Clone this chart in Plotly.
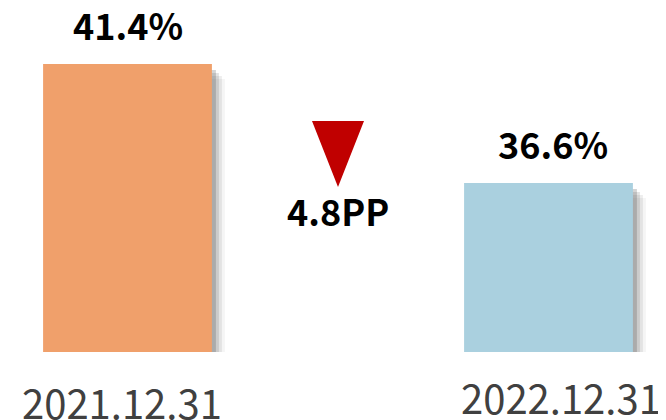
import plotly.graph_objects as go

categories = ["2021.12.31", "2022.12.31"]
values = [41.4, 36.6]
bar_colors = ["#F0A06B", "#AAD0DF"]
change_label = f"{values[0] - values[1]:.1f}PP"

# The page body adds an 8px margin, so the figure is 8px smaller and
# everything is laid out in (reference px - 8).
W, H = 658, 412
PLOT_H = 344            # plot area height (reference y 8..352)
K = 24.79               # px per unit on the y axis
Y0 = 29.78              # axis baseline value
Y1 = Y0 + PLOT_H / K
PXU = 421               # px per category step
CX0 = 119.5             # pixel of first category centre in figure coords


def py(ref_y):
    return (352 - ref_y) / PLOT_H


fig = go.Figure()

# soft shadow layers to the right of each bar
for d, op in [(13, 0.05), (10, 0.09), (7, 0.14), (4, 0.22)]:
    fig.add_trace(go.Bar(
        x=[0, 1], y=[v - (d + 2) / K for v in values],
        width=0.401, offset=-0.2005 + d / PXU,
        marker=dict(color="rgba(60,60,60,%s)" % op, line=dict(width=0)),
        hoverinfo="skip", showlegend=False))

fig.add_trace(go.Bar(
    x=[0, 1], y=values, width=0.401, offset=-0.2005,
    marker=dict(color=bar_colors, line=dict(width=0)),
    showlegend=False))

for i, v in enumerate(values):
    fig.add_annotation(x=i, y=v, text=f"<b>{v}%</b>", showarrow=False,
                       yanchor="bottom", yshift=12,
                       xshift=0 if i == 0 else 4,
                       font=dict(family="Noto Sans CJK SC", size=36, color="#000000"))

fig.add_annotation(x=0.5, y=py(210), xref="x", yref="paper",
                   text=f"<b>{change_label}</b>", showarrow=False,
                   yanchor="middle",
                   font=dict(family="Noto Sans CJK SC", size=36, color="#000000"))

fig.add_shape(type="path", xref="x", yref="paper",
              xsizemode="pixel", ysizemode="pixel",
              xanchor=0.5, yanchor=py(121),
              path="M -26,0 L 26,0 L 0,-66 Z",
              fillcolor="#C00000", line=dict(width=0))

for i, c in enumerate(categories):
    fig.add_annotation(x=i, y=0, xref="x", yref="paper", text=c,
                       showarrow=False, yanchor="top",
                       yshift=-19 if i == 0 else -14,
                       xshift=-6 if i == 0 else 12,
                       font=dict(family="Noto Sans CJK SC", size=40, color="#404040"))

fig.update_layout(
    width=W, height=H, barmode="overlay",
    margin=dict(l=0, r=0, t=0, b=H - PLOT_H),
    paper_bgcolor="white", plot_bgcolor="white",
    xaxis=dict(range=[-CX0 / PXU, (W - CX0) / PXU], visible=False),
    yaxis=dict(range=[Y0, Y1], visible=False),
)

fig.write_html("out.html")
